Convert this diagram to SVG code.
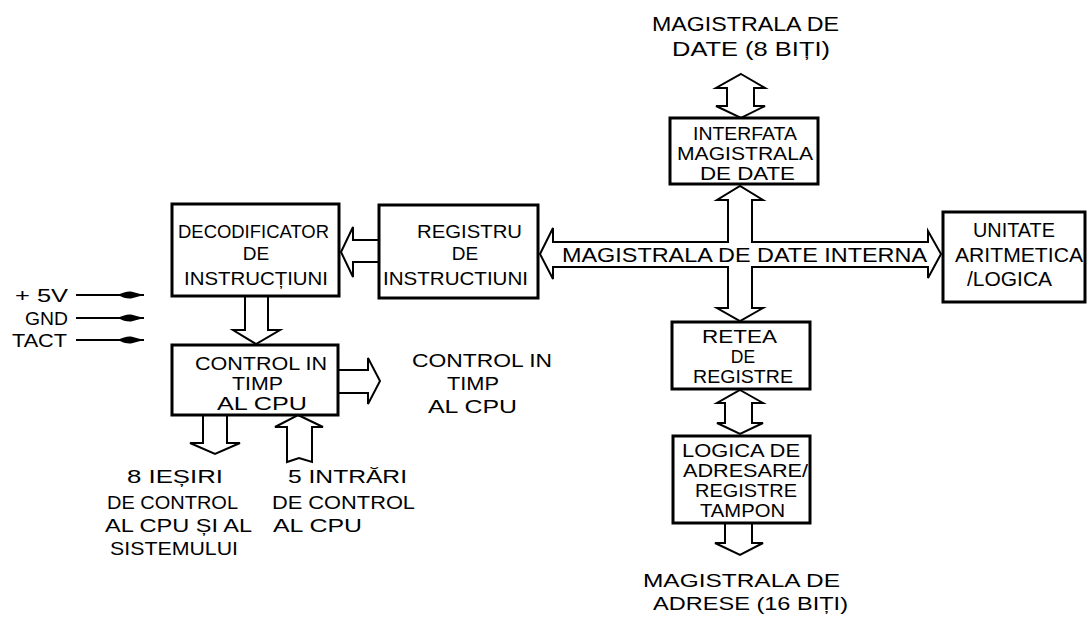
<svg xmlns="http://www.w3.org/2000/svg" width="1088" height="620" viewBox="0 0 1088 620">
<style>
.box{fill:#fff;stroke:#000;stroke-width:3}
.arr{fill:#fff;stroke:#000;stroke-width:2;stroke-linejoin:miter}
.sig{stroke:#000;stroke-width:2;fill:none}
text{font-family:"Liberation Sans",Arial,sans-serif;font-size:19px;fill:#000}
.big{font-size:21px}
.sm{font-size:17.5px}
.m{text-anchor:middle}
</style>
<defs>
<marker id="ah" markerWidth="28" markerHeight="10" refX="26" refY="5" orient="auto" markerUnits="userSpaceOnUse">
<path d="M0,5 Q7,1 13,1.5 L26,5 L13,8.5 Q7,9 0,5 Z" fill="#000"/>
</marker>
</defs>
<rect width="1088" height="620" fill="#fff"/>

<g id="connectors">
<path class="arr" d="M741,74 L765,88 L754,88 L754,106 L765,106 L741,118 L716,106 L727,106 L727,88 L716,88 Z"/>
<path class="arr" d="M540,254 L553,228 L553,242 L728,242 L728,200 L717,200 L740,186 L763,200 L752,200 L752,242 L928,242 L928,231 L941,254 L928,278 L928,267 L752,267 L752,308 L763,308 L740,321 L717,308 L728,308 L728,267 L553,267 L553,279 Z"/>
<path class="arr" d="M379,240 L353,240 L353,227 L341,252 L353,277 L353,262 L379,262"/>
<path class="arr" d="M245,296 L245,330 L233,330 L256,344 L280,330 L268,330 L268,296"/>
<path class="arr" d="M338,370 L368,370 L368,358 L380,381 L368,404 L368,393 L338,393"/>
<path class="arr" d="M203,415 L203,443 L190,443 L215,454 L240,443 L227,443 L227,415"/>
<path class="arr" d="M298,415 L323,427 L312,427 L312,462 L299,458 L287,462 L287,427 L275,427 Z"/>
<path class="arr" d="M740,390 L763,403 L752,403 L752,423 L763,423 L740,434 L717,423 L725,423 L725,403 L717,403 Z"/>
<path class="arr" d="M725,523 L725,543 L715,543 L740,555 L763,543 L752,543 L752,523"/>
<line class="sig" x1="76" y1="295" x2="144" y2="295" marker-end="url(#ah)"/>
<line class="sig" x1="76" y1="318" x2="144" y2="318" marker-end="url(#ah)"/>
<line class="sig" x1="76" y1="340" x2="144" y2="340" marker-end="url(#ah)"/>
</g>

<g id="data-bus-label">
<text class="big" x="652" y="31" textLength="187" lengthAdjust="spacingAndGlyphs">MAGISTRALA  DE</text>
<text class="big" x="672" y="56" textLength="158" lengthAdjust="spacingAndGlyphs">DATE (8 BIȚI)</text>
</g>

<g id="internal-bus-label">
<text class="big" x="562" y="262" textLength="365" lengthAdjust="spacingAndGlyphs">MAGISTRALA  DE  DATE  INTERNA</text>
</g>

<g id="interfata">
<rect class="box" x="670" y="118" width="148" height="66"/>
<text class="sm" x="693" y="140" textLength="104" lengthAdjust="spacingAndGlyphs">INTERFATA</text>
<text class="sm" x="677" y="160" textLength="136" lengthAdjust="spacingAndGlyphs">MAGISTRALA</text>
<text class="sm" x="700" y="180" textLength="95" lengthAdjust="spacingAndGlyphs">DE  DATE</text>
</g>

<g id="decodificator">
<rect class="box" x="172" y="204" width="167" height="92"/>
<text x="178" y="238" textLength="151" lengthAdjust="spacingAndGlyphs">DECODIFICATOR</text>
<text class="m" x="256" y="260">DE</text>
<text x="184" y="285" textLength="144" lengthAdjust="spacingAndGlyphs">INSTRUCȚIUNI</text>
</g>

<g id="registru">
<rect class="box" x="379" y="205" width="159" height="93"/>
<text x="417" y="238" textLength="105" lengthAdjust="spacingAndGlyphs">REGISTRU</text>
<text class="m" x="465" y="260">DE</text>
<text x="383" y="285" textLength="145" lengthAdjust="spacingAndGlyphs">INSTRUCTIUNI</text>
</g>

<g id="alu">
<rect class="box" x="943" y="212" width="142" height="90"/>
<text class="big" x="973" y="237" textLength="82" lengthAdjust="spacingAndGlyphs">UNITATE</text>
<text class="big" x="955" y="262" textLength="128" lengthAdjust="spacingAndGlyphs">ARITMETICA</text>
<text class="big" x="967" y="286" textLength="85" lengthAdjust="spacingAndGlyphs">/LOGICA</text>
</g>

<g id="control">
<rect class="box" x="172" y="345" width="166" height="70"/>
<text class="sm" x="195" y="370" textLength="132" lengthAdjust="spacingAndGlyphs">CONTROL IN</text>
<text class="sm" x="232" y="390" textLength="51" lengthAdjust="spacingAndGlyphs">TIMP</text>
<text class="sm" x="217" y="410" textLength="90" lengthAdjust="spacingAndGlyphs">AL CPU</text>
</g>

<g id="control-out-label">
<text x="412" y="367" textLength="140" lengthAdjust="spacingAndGlyphs">CONTROL  IN</text>
<text x="447" y="390" textLength="52" lengthAdjust="spacingAndGlyphs">TIMP</text>
<text x="428" y="413" textLength="89" lengthAdjust="spacingAndGlyphs">AL  CPU</text>
</g>

<g id="power-labels">
<text x="15" y="302" textLength="53" lengthAdjust="spacingAndGlyphs">+ 5V</text>
<text x="25" y="325" textLength="43" lengthAdjust="spacingAndGlyphs">GND</text>
<text x="12" y="347" textLength="55" lengthAdjust="spacingAndGlyphs">TACT</text>
</g>

<g id="outputs-label">
<text x="127" y="483" textLength="96" lengthAdjust="spacingAndGlyphs">8  IEȘIRI</text>
<text x="107" y="509" textLength="131" lengthAdjust="spacingAndGlyphs">DE CONTROL</text>
<text x="105" y="532" textLength="147" lengthAdjust="spacingAndGlyphs">AL CPU ȘI AL</text>
<text x="110" y="555" textLength="128" lengthAdjust="spacingAndGlyphs">SISTEMULUI</text>
</g>

<g id="inputs-label">
<text x="288" y="483" textLength="119" lengthAdjust="spacingAndGlyphs">5 INTRĂRI</text>
<text x="272" y="509" textLength="143" lengthAdjust="spacingAndGlyphs">DE  CONTROL</text>
<text x="273" y="532" textLength="89" lengthAdjust="spacingAndGlyphs">AL  CPU</text>
</g>

<g id="retea">
<rect class="box" x="672" y="322" width="138" height="67"/>
<text class="sm" x="702" y="343" textLength="75" lengthAdjust="spacingAndGlyphs">RETEA</text>
<text class="sm m" x="743" y="363">DE</text>
<text class="sm" x="693" y="383" textLength="100" lengthAdjust="spacingAndGlyphs">REGISTRE</text>
</g>

<g id="logica">
<rect class="box" x="673" y="436" width="137" height="87"/>
<text class="sm" x="682" y="457" textLength="118" lengthAdjust="spacingAndGlyphs">LOGICA  DE</text>
<text class="sm" x="683" y="477" textLength="125" lengthAdjust="spacingAndGlyphs">ADRESARE/</text>
<text class="sm" x="695" y="497" textLength="102" lengthAdjust="spacingAndGlyphs">REGISTRE</text>
<text class="sm" x="700" y="517" textLength="85" lengthAdjust="spacingAndGlyphs">TAMPON</text>
</g>

<g id="address-bus-label">
<text x="643" y="587" textLength="197" lengthAdjust="spacingAndGlyphs">MAGISTRALA  DE</text>
<text x="653" y="610" textLength="195" lengthAdjust="spacingAndGlyphs">ADRESE (16 BIȚI)</text>
</g>
</svg>
